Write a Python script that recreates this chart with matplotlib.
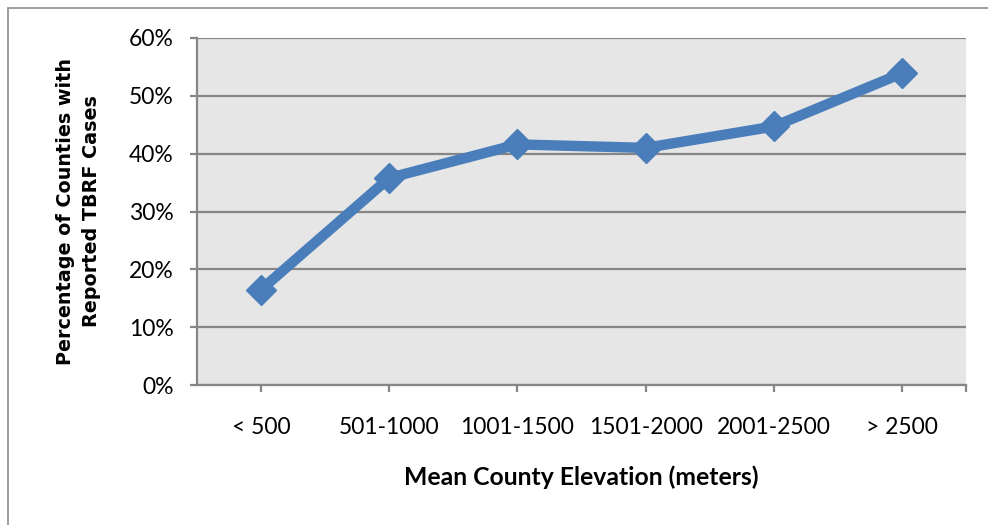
import numpy as np
import matplotlib.pyplot as plt
from matplotlib.ticker import PercentFormatter
from matplotlib.patches import Rectangle

# 고도 구간별 TBRF 보고 카운티 비율
categories = ['< 500', '501-1000', '1001-1500', '1501-2000', '2001-2500', '> 2500']
percent = [16.5, 35.8, 41.6, 41.0, 44.7, 53.9]
y_ticks = [0, 10, 20, 30, 40, 50, 60]

blue = '#4a7ebb'
gray = '#868686'

fig = plt.figure(figsize=(9.88, 5.25), dpi=100)
ax = fig.add_axes([197 / 988, 1 - 385 / 525, (966 - 197) / 988, (385 - 38) / 525])

# 바깥 테두리
fig.patches.append(Rectangle((8 / 988, -0.1), 1.2, 1 - 8 / 525 + 0.1, transform=fig.transFigure,
                             fill=False, edgecolor='#8c8c8c', linewidth=1.2))

x = np.arange(len(categories))
ax.plot(x, percent, color=blue, linewidth=7.5, marker='D', markersize=15,
        solid_joinstyle='miter', zorder=3)

ax.set_facecolor('#e6e6e6')
ax.set_xlim(-0.5, len(categories) - 0.5)
ax.set_ylim(0, 60)
ax.set_yticks(y_ticks)
ax.yaxis.set_major_formatter(PercentFormatter(decimals=0))
ax.set_xticks(x)
ax.set_xticklabels(categories)
ax.set_xticks([len(categories) - 0.5], minor=True)
ax.grid(axis='y', color=gray, linewidth=1.6)
ax.set_axisbelow(True)

for side in ['top', 'right']:
    ax.spines[side].set_visible(False)
for side in ['left', 'bottom']:
    ax.spines[side].set_color(gray)
    ax.spines[side].set_linewidth(1.6)

ax.tick_params(axis='y', length=5, width=1.6, color=gray, pad=12, labelsize=16.5)
ax.tick_params(axis='x', which='both', length=5, width=1.6, color=gray, pad=18, labelsize=16.5)
for lab in ax.get_xticklabels() + ax.get_yticklabels():
    lab.set_fontfamily('Lato')

ax.set_xlabel('Mean County Elevation (meters)', fontsize=17.8, fontweight='bold',
              family='Lato', labelpad=20)
ax.set_ylabel('Percentage of Counties with\nReported TBRF Cases', fontsize=13.8,
              fontweight='bold', family='DejaVu Sans', labelpad=20, linespacing=1.45)

fig.savefig('out.png', dpi=100)
